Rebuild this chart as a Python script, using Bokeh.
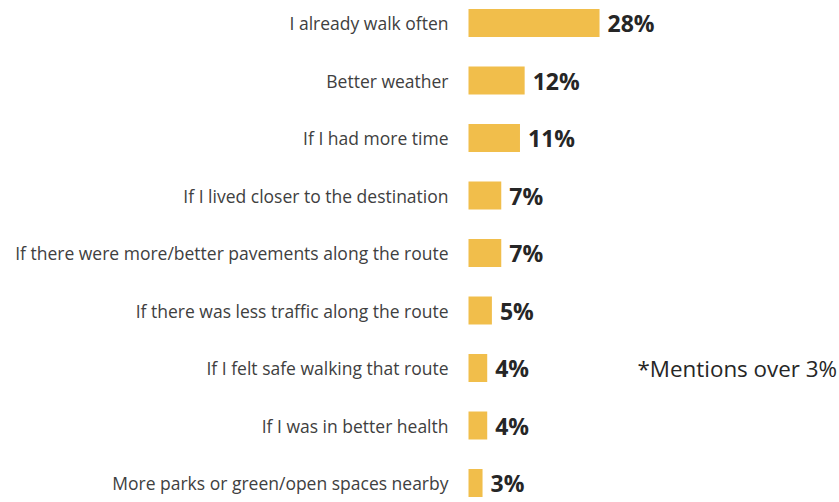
from bokeh.plotting import figure
from bokeh.models import ColumnDataSource, Range1d, Label
from bokeh.core.properties import value
from bokeh.embed import file_html
from bokeh.resources import INLINE

categories = [
    "I already walk often",
    "Better weather",
    "If I had more time",
    "If I lived closer to the destination",
    "If there were more/better pavements along the route",
    "If there was less traffic along the route",
    "If I felt safe walking that route",
    "If I was in better health",
    "More parks or green/open spaces nearby",
]
values = [28, 12, 11, 7, 7, 5, 4, 4, 3]
value_labels = [f"{v}%" for v in values]
note = "*Mentions over 3%"

W, H = 839, 502
px_per_pct = 4.68
bar_left = 468
row_h = 57.5
first_row = 22.5

rows = list(range(len(categories)))
src = ColumnDataSource(dict(y=rows, cat=categories, v=values, vl=value_labels, zero=[0] * len(values)))

x0 = -bar_left / px_per_pct
p = figure(width=W, height=H, output_backend="svg", toolbar_location=None,
           x_range=Range1d(x0, x0 + W / px_per_pct),
           y_range=Range1d(-first_row / row_h + H / row_h, -first_row / row_h),
           min_border=0, outline_line_color=None)
p.axis.visible = False
p.grid.visible = False
p.background_fill_color = "white"

p.hbar(y="y", left="zero", right="v", height=28 / row_h, source=src,
       fill_color="#F1BE4B", line_color=None)

p.text(x="zero", y="y", text="cat", source=src, x_offset=-20,
       text_align="right", text_baseline="middle",
       text_font=value("Open Sans"), text_font_size="17.5px", text_color="#404040")

p.text(x="v", y="y", text="vl", source=src, x_offset=8, y_offset=0,
       text_align="left", text_baseline="middle",
       text_font=value("Open Sans"), text_font_size="23px", text_font_style="bold",
       text_color="#262626")

p.add_layout(Label(x=(637 - 468) / px_per_pct, y=6, text=note, text_align="left",
                   text_baseline="middle", text_font="Open Sans", text_font_size="22.4px",
                   text_color="#262626"))

open("out.html", "w").write(file_html(p, INLINE))
